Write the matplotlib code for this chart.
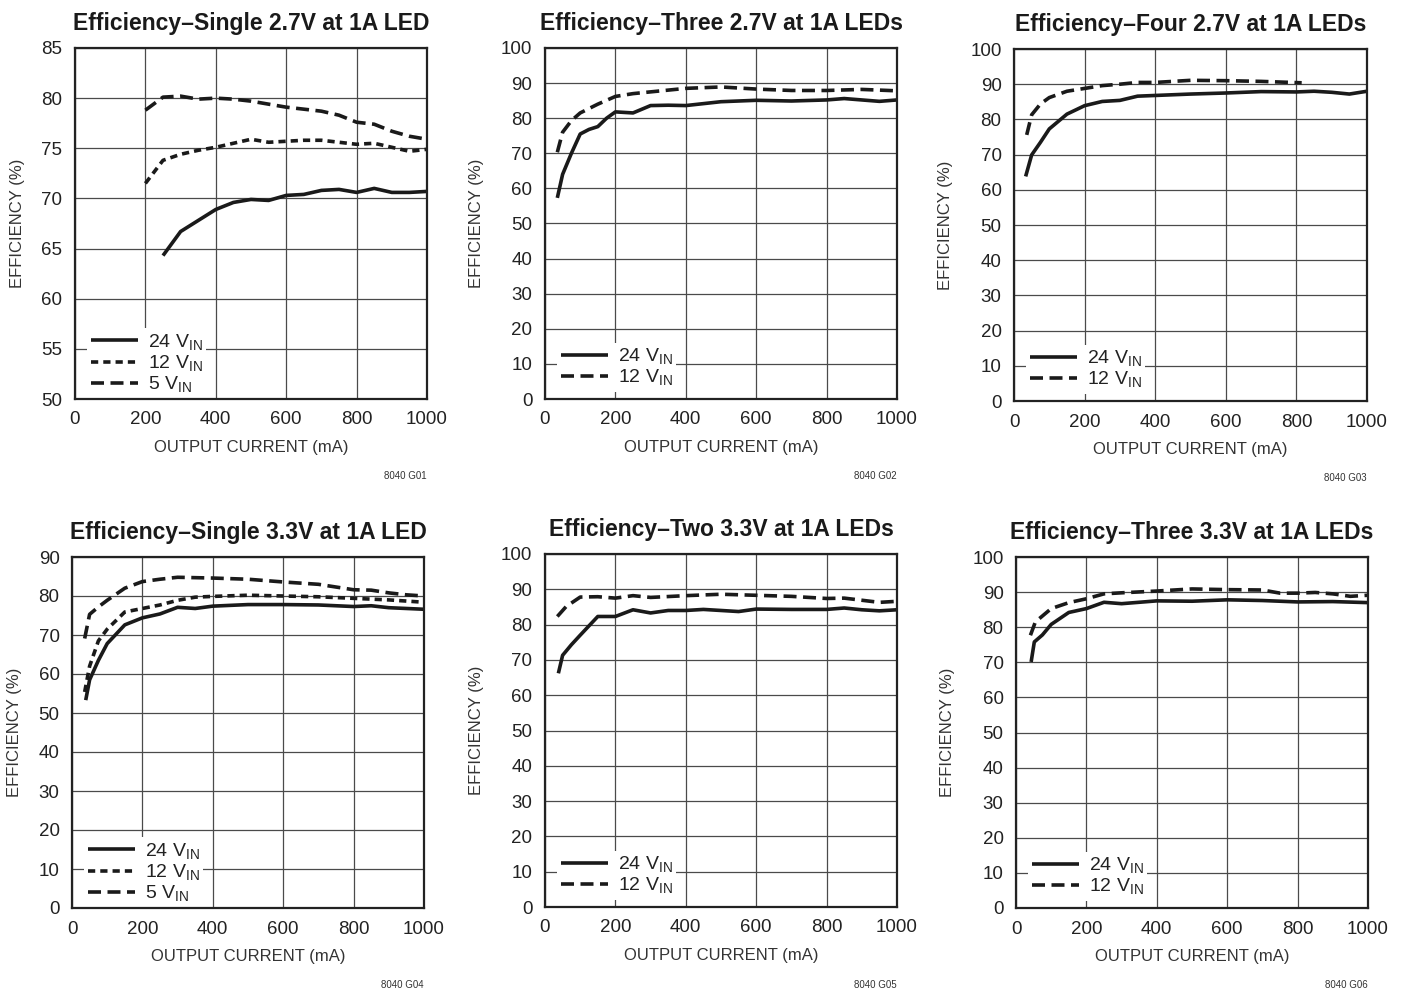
import numpy as np
import matplotlib
matplotlib.use('Agg')
import matplotlib.pyplot as plt
from matplotlib import font_manager

# pick a narrow font if one is there
names = set(f.name for f in font_manager.fontManager.ttflist)
FONT = 'Liberation Sans Narrow' if 'Liberation Sans Narrow' in names else 'Liberation Sans'
plt.rcParams['font.family'] = [FONT, 'DejaVu Sans']
plt.rcParams['mathtext.fontset'] = 'custom'
plt.rcParams['mathtext.rm'] = FONT

# G01  Single 2.7V at 1A LED
g1_x24 = [250, 300, 350, 400, 450, 500, 550, 600, 650, 700, 750, 800, 850, 900, 950, 1000]
g1_y24 = [64.3, 66.7, 67.8, 68.9, 69.6, 69.9, 69.8, 70.3, 70.4, 70.8, 70.9, 70.6, 71.0, 70.6, 70.6, 70.7]
g1_x12 = [200, 250, 300, 350, 400, 450, 500, 550, 600, 650, 700, 750, 800, 850, 900, 950, 1000]
g1_y12 = [71.5, 73.8, 74.4, 74.8, 75.1, 75.5, 75.9, 75.6, 75.7, 75.8, 75.8, 75.6, 75.4, 75.5, 75.1, 74.7, 74.9]
g1_x5 = [200, 250, 300, 350, 400, 450, 500, 550, 600, 650, 700, 750, 800, 850, 900, 950, 1000]
g1_y5 = [78.8, 80.1, 80.2, 79.9, 80.0, 79.9, 79.7, 79.4, 79.1, 78.9, 78.7, 78.3, 77.6, 77.4, 76.7, 76.2, 75.9]

# G02  Three 2.7V at 1A LEDs
g2_x24 = [35, 50, 75, 100, 125, 150, 175, 200, 250, 300, 350, 400, 500, 600, 700, 800, 850, 900, 950, 1000]
g2_y24 = [57.3, 64.0, 70.0, 75.5, 76.8, 77.6, 80.0, 81.8, 81.5, 83.6, 83.7, 83.6, 84.7, 85.1, 84.9, 85.2, 85.6, 85.2, 84.8, 85.2]
g2_x12 = [35, 50, 75, 100, 150, 200, 250, 300, 400, 500, 600, 700, 800, 900, 1000]
g2_y12 = [70.3, 76.0, 79.3, 81.5, 84.0, 86.2, 87.0, 87.5, 88.5, 88.9, 88.3, 87.9, 87.9, 88.2, 87.8]

# G03  Four 2.7V at 1A LEDs
g3_x24 = [33, 50, 75, 100, 150, 200, 250, 300, 350, 400, 500, 600, 700, 800, 850, 900, 950, 1000]
g3_y24 = [63.8, 69.9, 73.5, 77.3, 81.5, 83.9, 85.1, 85.4, 86.6, 86.8, 87.2, 87.5, 87.9, 87.8, 88.0, 87.7, 87.2, 88.0]
g3_x12 = [36, 50, 75, 100, 150, 200, 250, 300, 350, 400, 500, 600, 700, 815]
g3_y12 = [75.6, 81.3, 84.4, 86.2, 88.0, 88.8, 89.6, 90.0, 90.5, 90.5, 91.1, 91.0, 90.8, 90.4]

# G04  Single 3.3V at 1A LED
g4_x24 = [39, 50, 75, 100, 150, 200, 250, 300, 350, 400, 500, 600, 700, 800, 850, 900, 1000]
g4_y24 = [53.3, 58.5, 63.5, 67.8, 72.6, 74.4, 75.4, 77.1, 76.8, 77.4, 77.8, 77.8, 77.7, 77.3, 77.5, 77.0, 76.6]
g4_x12 = [36, 50, 75, 100, 150, 200, 250, 300, 350, 400, 500, 600, 700, 800, 900, 1000]
g4_y12 = [55.4, 62.0, 68.5, 71.5, 75.9, 76.8, 77.7, 78.9, 79.7, 79.9, 80.2, 80.0, 79.8, 79.4, 79.0, 78.4]
g4_x5 = [36, 50, 75, 100, 150, 200, 250, 300, 400, 500, 600, 700, 800, 850, 900, 950, 1000]
g4_y5 = [69.1, 75.3, 77.2, 78.9, 82.0, 83.7, 84.3, 84.8, 84.6, 84.3, 83.6, 83.0, 81.6, 81.5, 80.8, 80.3, 80.0]

# G05  Two 3.3V at 1A LEDs
g5_x24 = [38, 50, 75, 100, 150, 200, 250, 300, 350, 400, 450, 500, 550, 600, 700, 800, 850, 900, 950, 1000]
g5_y24 = [66.2, 71.3, 74.3, 77.0, 82.3, 82.3, 84.2, 83.3, 84.0, 84.0, 84.3, 84.0, 83.7, 84.4, 84.3, 84.3, 84.7, 84.2, 83.9, 84.2]
g5_x12 = [35, 60, 100, 150, 200, 250, 300, 400, 500, 600, 700, 800, 850, 900, 950, 1000]
g5_y12 = [82.3, 85.1, 87.8, 87.9, 87.5, 88.2, 87.7, 88.2, 88.6, 88.3, 88.0, 87.4, 87.5, 86.9, 86.3, 86.6]

# G06  Three 3.3V at 1A LEDs
g6_x24 = [43, 52, 75, 100, 150, 200, 250, 300, 400, 500, 600, 700, 800, 900, 1000]
g6_y24 = [70.1, 75.8, 77.8, 80.8, 84.2, 85.3, 87.1, 86.7, 87.5, 87.4, 87.8, 87.6, 87.2, 87.3, 87.0]
g6_x12 = [41, 55, 100, 150, 200, 250, 300, 400, 500, 600, 700, 750, 800, 850, 900, 950, 1000]
g6_y12 = [77.7, 81.5, 85.3, 87.0, 88.1, 89.5, 89.8, 90.3, 90.9, 90.7, 90.6, 89.7, 89.7, 89.9, 89.5, 88.8, 89.1]

titles = ['Efficiency\u2013Single 2.7V at 1A LED', 'Efficiency\u2013Three 2.7V at 1A LEDs',
          'Efficiency\u2013Four 2.7V at 1A LEDs', 'Efficiency\u2013Single 3.3V at 1A LED',
          'Efficiency\u2013Two 3.3V at 1A LEDs', 'Efficiency\u2013Three 3.3V at 1A LEDs']
codes = ['8040 G01', '8040 G02', '8040 G03', '8040 G04', '8040 G05', '8040 G06']

LBL24 = '24 V$_{\\rm IN}$'
LBL12 = '12 V$_{\\rm IN}$'
LBL5 = '5 V$_{\\rm IN}$'
SOLID = '-'
SHORT = (0, (2.0, 1.4))
LONG = (0, (3.6, 1.8))

panels = [
    dict(lines=[(g1_x24, g1_y24, SOLID, LBL24), (g1_x12, g1_y12, SHORT, LBL12), (g1_x5, g1_y5, LONG, LBL5)],
         ylim=(50, 85), ystep=5, box=(75, 48, 427, 399)),
    dict(lines=[(g2_x24, g2_y24, SOLID, LBL24), (g2_x12, g2_y12, LONG, LBL12)],
         ylim=(0, 100), ystep=10, box=(545, 48, 897, 399)),
    dict(lines=[(g3_x24, g3_y24, SOLID, LBL24), (g3_x12, g3_y12, LONG, LBL12)],
         ylim=(0, 100), ystep=10, box=(1014, 49, 1367, 401)),
    dict(lines=[(g4_x24, g4_y24, SOLID, LBL24), (g4_x12, g4_y12, SHORT, LBL12), (g4_x5, g4_y5, LONG, LBL5)],
         ylim=(0, 90), ystep=10, box=(72, 557, 424, 908)),
    dict(lines=[(g5_x24, g5_y24, SOLID, LBL24), (g5_x12, g5_y12, LONG, LBL12)],
         ylim=(0, 100), ystep=10, box=(545, 554, 897, 907)),
    dict(lines=[(g6_x24, g6_y24, SOLID, LBL24), (g6_x12, g6_y12, LONG, LBL12)],
         ylim=(0, 100), ystep=10, box=(1016, 557, 1368, 908)),
]

W, H = 1401, 991
fig = plt.figure(figsize=(W / 100, H / 100), dpi=100)

for i, p in enumerate(panels):
    l, t, r, b = p['box']
    ax = fig.add_axes([l / W, 1 - b / H, (r - l) / W, (b - t) / H])
    for xs, ys, ls, lab in p['lines']:
        ax.plot(xs, ys, color='#1a1a1a', lw=2.6, linestyle=ls, label=lab,
                solid_capstyle='butt', dash_capstyle='butt')
    ax.set_xlim(0, 1000)
    ax.set_ylim(*p['ylim'])
    ax.set_xticks(np.arange(0, 1001, 200))
    ax.set_yticks(np.arange(p['ylim'][0], p['ylim'][1] + 1, p['ystep']))
    ax.grid(True, color='#4a4a4a', lw=0.9)
    ax.set_axisbelow(True)
    ax.tick_params(length=0, labelsize=13.5, colors='#222222')
    ax.tick_params(axis='x', pad=9)
    ax.tick_params(axis='y', pad=9)
    for s in ax.spines.values():
        s.set_linewidth(1.6)
        s.set_color('#222222')
        s.set_zorder(6)
    ax.set_xlabel('OUTPUT CURRENT (mA)', fontsize=12, color='#333333', labelpad=8)
    ax.set_ylabel('EFFICIENCY (%)', fontsize=12, color='#333333', labelpad=12)
    ax.set_title(titles[i], fontsize=16.5, fontweight='bold', color='#1a1a1a', pad=13)
    nl = len(p['lines'])
    leg = ax.legend(loc='lower left', bbox_to_anchor=(0.035, 0.0 if nl == 3 else 0.02),
                    fontsize=14, frameon=True, fancybox=False, framealpha=1,
                    edgecolor='none', facecolor='white', handlelength=2.4,
                    handletextpad=0.5, labelspacing=0.05, borderpad=0.2, borderaxespad=0.0)
    for txt in leg.get_texts():
        txt.set_color('#222222')
    ax.text(1.0, -0.22, codes[i], transform=ax.transAxes, ha='right', va='center',
            fontsize=7, color='#333333')

fig.savefig('out.png', dpi=100, facecolor='white')
